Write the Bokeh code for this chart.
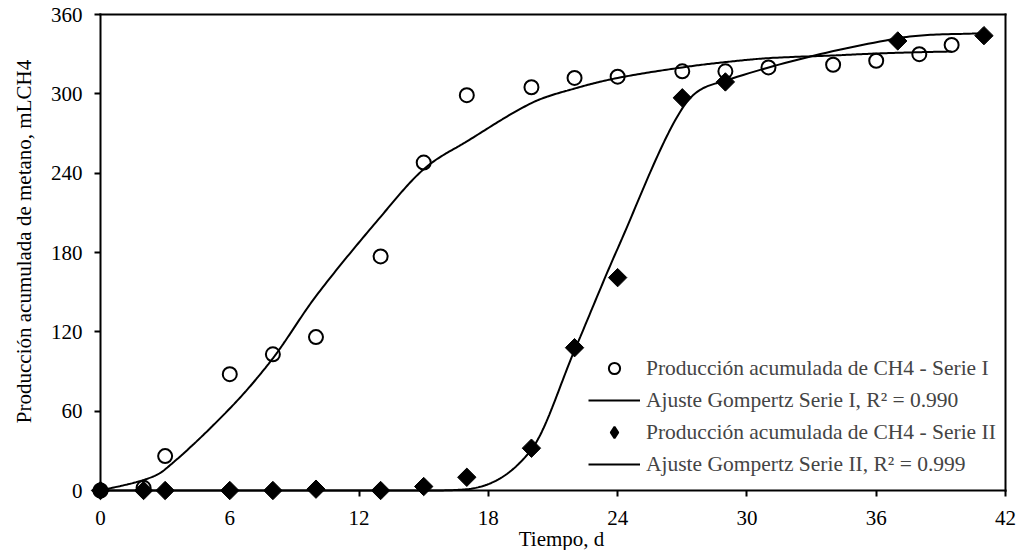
import numpy as np
from bokeh.plotting import figure
from bokeh.models import Range1d, FixedTicker, Legend, LegendItem, LinearAxis, Label
from bokeh.embed import file_html
from bokeh.resources import INLINE

# Cumulative methane production, series I (measured and Gompertz fit)
dias_I = [0, 2, 3, 6, 8, 10, 13, 15, 17, 20, 22, 24, 27, 29, 31, 34, 36, 38, 39.5]
ch4_I = [0, 2, 26, 88, 103, 116, 177, 248, 299, 305, 312, 313, 317, 317, 320, 322, 325, 330, 337]
gompertz_I = [0, 8, 16, 62, 100, 147, 207, 243, 264, 293, 304, 312, 320, 324, 327, 329, 330.5, 331.5, 332]

# Cumulative methane production, series II (measured and Gompertz fit)
dias_II = [0, 2, 3, 6, 8, 10, 13, 15, 17, 20, 22, 24, 27, 29, 37, 41]
ch4_II = [0, 0, 0, 0, 0, 1, 0, 3, 10, 32, 108, 161, 297, 309, 340, 344]
gompertz_II = [0, 0, 0, 0, 0, 0, 0, 0, 1, 31, 106, 183, 289, 310, 342, 346]

x_ticks = [0, 6, 12, 18, 24, 30, 36, 42]
y_ticks = [0, 60, 120, 180, 240, 300, 360]
X_MAX, Y_MAX = 42, 360

labels = [
    "Producción acumulada de CH4 - Serie I",
    "Ajuste Gompertz Serie I, R² = 0.990",
    "Producción acumulada de CH4 - Serie II",
    "Ajuste Gompertz Serie II, R² = 0.999",
]
x_title = "Tiempo, d"
y_title = "Producción acumulada de metano, mLCH4"

FONT = "Liberation Serif"

# Page geometry (px).  The plotting frame covers the whole canvas and the
# axes box runs from (LEFT, TOP) to (RIGHT, BOTTOM); axes are pinned to the
# data limits, so markers sitting on them are drawn whole.
W, H = 1020, 550
LEFT, RIGHT, TOP, BOTTOM = 100, 1005, 14, 490
kx = (RIGHT - LEFT) / X_MAX
ky = (BOTTOM - TOP) / Y_MAX


def smooth(xs, ys, n=30):
    """Monotone cubic Hermite curve (Fritsch-Carlson) through the points."""
    x = np.asarray(xs, float)
    y = np.asarray(ys, float)
    h = np.diff(x)
    d = np.diff(y) / h
    m = np.empty_like(y)
    m[0], m[-1] = d[0], d[-1]
    m[1:-1] = (y[2:] - y[:-2]) / (x[2:] - x[:-2])
    for k in range(len(d)):
        if d[k] == 0:
            m[k] = m[k + 1] = 0.0
            continue
        a, b = m[k] / d[k], m[k + 1] / d[k]
        if a < 0:
            m[k] = 0.0
            a = 0.0
        if b < 0:
            m[k + 1] = 0.0
            b = 0.0
        s = a * a + b * b
        if s > 9:
            tau = 3 / np.sqrt(s)
            m[k] = tau * a * d[k]
            m[k + 1] = tau * b * d[k]
    out_x, out_y = [x[0]], [y[0]]
    t = np.linspace(0, 1, n)[1:]
    for i in range(len(x) - 1):
        c1 = y[i] + m[i] * h[i] / 3
        c2 = y[i + 1] - m[i + 1] * h[i] / 3
        out_x.extend(x[i] + h[i] * t)
        out_y.extend((1 - t) ** 3 * y[i] + 3 * (1 - t) ** 2 * t * c1
                     + 3 * (1 - t) * t ** 2 * c2 + t ** 3 * y[i + 1])
    return out_x, out_y


p = figure(width=W, height=H,
           x_range=Range1d(-LEFT / kx, X_MAX + (W - RIGHT) / kx),
           y_range=Range1d(-(H - BOTTOM) / ky, Y_MAX + TOP / ky),
           output_backend="svg", toolbar_location=None, min_border=0)

p.xgrid.grid_line_color = None
p.ygrid.grid_line_color = None
p.outline_line_color = None
p.background_fill_color = "white"
p.border_fill_color = "white"

xax = p.below[0]
yax = p.left[0]
xax.ticker = FixedTicker(ticks=x_ticks)
yax.ticker = FixedTicker(ticks=y_ticks)
xax.fixed_location = 0
yax.fixed_location = 0
xax.bounds = (0, X_MAX)
yax.bounds = (0, Y_MAX)

for ax in (xax, yax):
    ax.axis_line_width = 2
    ax.axis_line_color = "black"
    ax.axis_line_cap = "square"
    ax.major_tick_line_width = 2
    ax.major_tick_in = 0
    ax.major_tick_out = 6
    ax.minor_tick_line_color = None
    ax.major_label_text_font = FONT
    ax.major_label_text_font_size = "21px"
    ax.major_label_text_color = "black"

xax.major_label_standoff = 14
yax.major_label_standoff = 12

# top and right sides of the axes box
top_ax = LinearAxis(ticker=FixedTicker(ticks=[]), bounds=(0, X_MAX),
                    fixed_location=Y_MAX, axis_line_width=2, axis_line_cap="square",
                    major_tick_line_color=None, minor_tick_line_color=None,
                    major_label_text_font_size="0px")
right_ax = LinearAxis(ticker=FixedTicker(ticks=[]), bounds=(0, Y_MAX),
                      fixed_location=X_MAX, axis_line_width=2, axis_line_cap="square",
                      major_tick_line_color=None, minor_tick_line_color=None,
                      major_label_text_font_size="0px")
p.add_layout(top_ax, "above")
p.add_layout(right_ax, "right")

# axis titles
p.add_layout(Label(x=561, y=H - 538, x_units="screen", y_units="screen",
                   text=x_title, text_font=FONT, text_font_size="21px",
                   text_color="black", text_align="center", text_baseline="middle"))
p.add_layout(Label(x=23, y=H - 241, x_units="screen", y_units="screen",
                   text=y_title, angle=np.pi / 2,
                   text_font=FONT, text_font_size="21px", text_color="black",
                   text_align="center", text_baseline="middle"))

r_pts1 = p.scatter(dias_I, ch4_I, marker="circle", size=14,
                   fill_color="white", line_color="black", line_width=2)
fx1, fy1 = smooth(dias_I, gompertz_I)
r_fit1 = p.line(fx1, fy1, line_color="black", line_width=2)
r_pts2 = p.scatter(dias_II, ch4_II, marker="square", size=13, angle=np.pi / 4,
                   fill_color="black", line_color="black", line_width=1)
fx2, fy2 = smooth(dias_II, gompertz_II)
r_fit2 = p.line(fx2, fy2, line_color="black", line_width=2)

# legend symbols (no points of their own on the chart)
leg_c = p.scatter(x=[np.nan], y=[np.nan], marker="circle", fill_color="white",
                  line_color="black", line_width=2)
leg_d = p.scatter(x=[np.nan], y=[np.nan], marker="diamond", fill_color="black",
                  line_color="black", line_width=2)

legend = Legend(
    items=[LegendItem(label=labels[0], renderers=[leg_c]),
           LegendItem(label=labels[1], renderers=[r_fit1]),
           LegendItem(label=labels[2], renderers=[leg_d]),
           LegendItem(label=labels[3], renderers=[r_fit2])],
    location=(588, H - 478),
    label_text_font=FONT, label_text_font_size="21.5px",
    glyph_width=52, glyph_height=28, label_standoff=6,
    spacing=4, padding=0, margin=0,
    border_line_alpha=0, background_fill_alpha=0,
)
p.add_layout(legend)

open("out.html", "w").write(file_html(p, INLINE))
